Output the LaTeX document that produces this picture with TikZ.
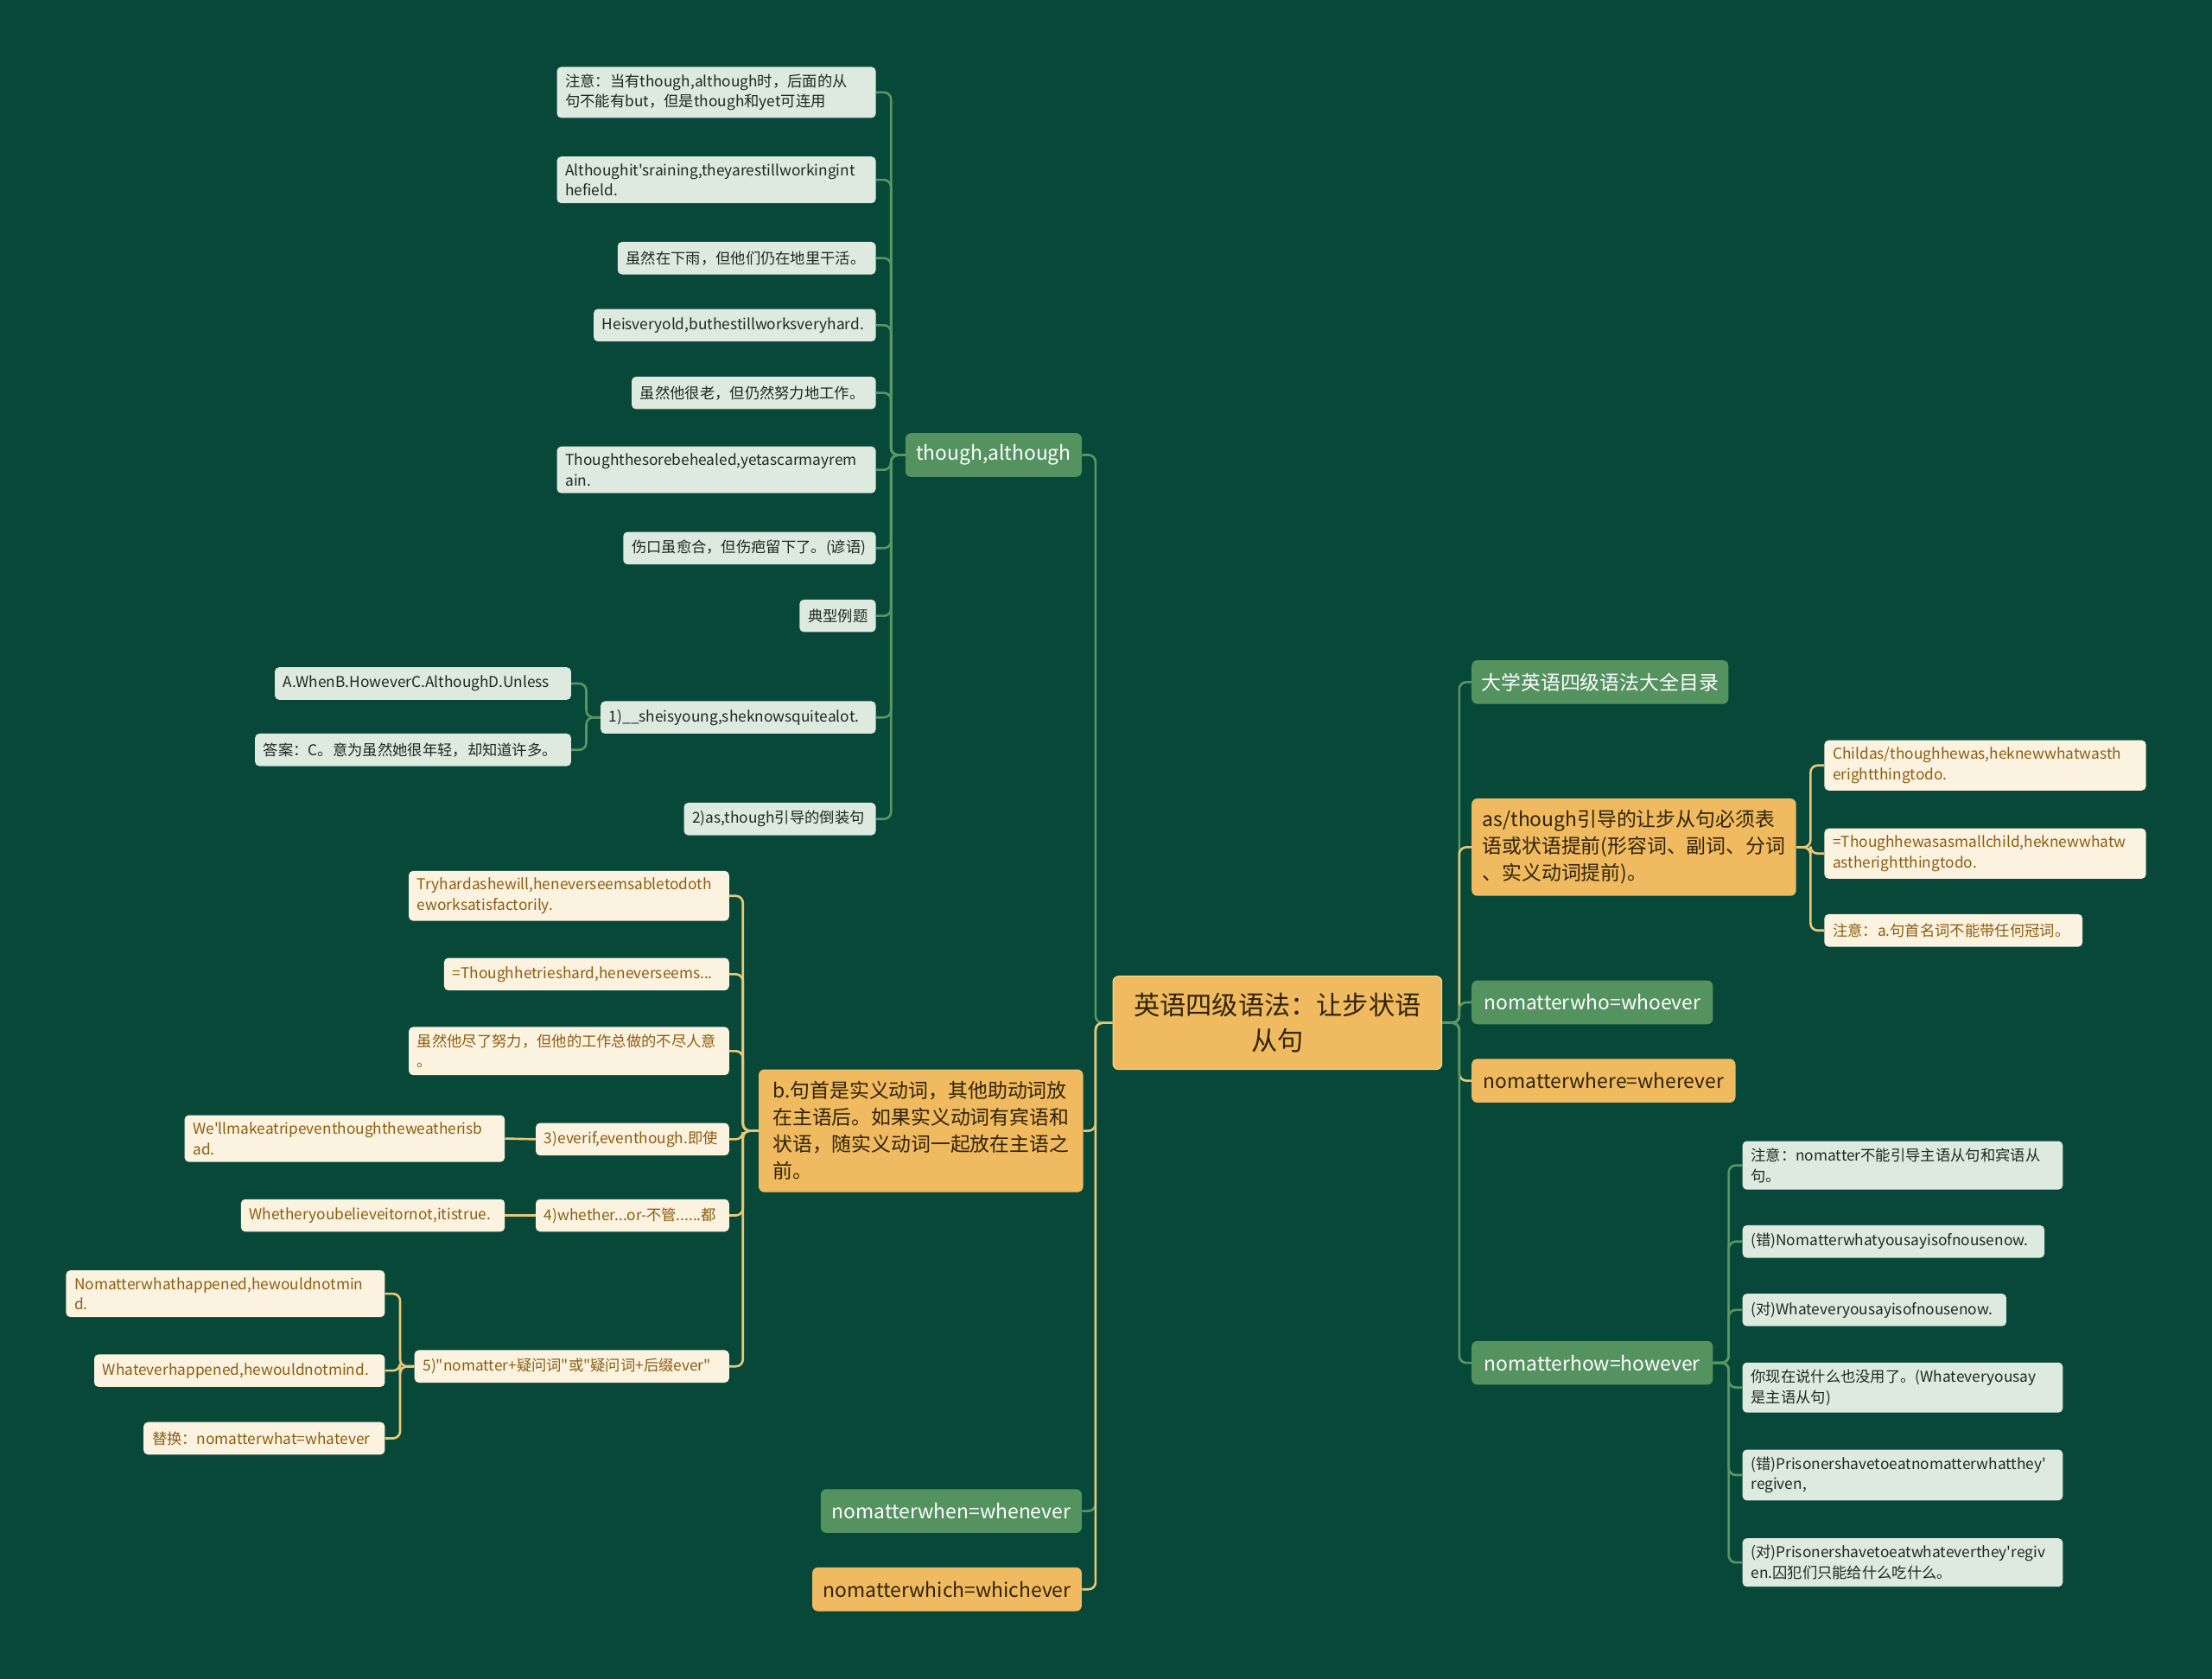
\documentclass[tikz,border=0pt]{standalone}
\usepackage{fontspec}
\newfontfamily\cjk{Noto Sans CJK SC}
\usepackage{tikz}
\usetikzlibrary{shapes,arrows}
\definecolor{boardGreen}{RGB}{7,72,57}
\definecolor{topicGreen}{RGB}{84,146,96}
\definecolor{topicYellow}{RGB}{240,187,96}
\definecolor{rootEdge}{RGB}{248,214,136}
\definecolor{noteGreen}{RGB}{222,234,224}
\definecolor{noteCream}{RGB}{252,242,224}
\definecolor{darkInk}{RGB}{48,34,10}
\definecolor{noteInk}{RGB}{30,40,34}
\definecolor{creamInk}{RGB}{138,94,16}
\definecolor{linkGreen}{RGB}{88,150,98}
\definecolor{linkYellow}{RGB}{232,200,120}
\tikzstyle{rootTopic} = [rectangle, rounded corners=4pt, fill=topicYellow, draw=rootEdge,
    line width=0.8pt, text=darkInk, align=center, inner xsep=8pt,
    font=\cjk\fontsize{18.5}{25}\selectfont, minimum height=66pt]
\tikzstyle{greenTopic} = [rectangle, rounded corners=4pt, fill=topicGreen, text=white,
    align=left, inner xsep=7pt, font=\cjk\fontsize{14}{19}\selectfont, minimum height=31pt]
\tikzstyle{yellowTopic} = [rectangle, rounded corners=4pt, fill=topicYellow, text=darkInk,
    align=left, inner xsep=7pt, font=\cjk\fontsize{14}{19}\selectfont, minimum height=31pt]
\tikzstyle{greenNote} = [rectangle, rounded corners=3pt, fill=noteGreen, text=noteInk,
    align=left, inner xsep=6pt, inner ysep=5pt, font=\cjk\fontsize{10.6}{14.5}\selectfont,
    minimum height=23pt]
\tikzstyle{yellowNote} = [rectangle, rounded corners=3pt, fill=noteCream, text=creamInk,
    align=left, inner xsep=6pt, inner ysep=5pt, font=\cjk\fontsize{10.6}{14.5}\selectfont,
    minimum height=23pt]
\tikzstyle{greenLink} = [draw=linkGreen, line width=1.6pt, rounded corners=5pt]
\tikzstyle{yellowLink} = [draw=linkYellow, line width=1.6pt, rounded corners=5pt]

\begin{document}
\begin{tikzpicture}[x=1pt, y=-1pt]
    \fill[boardGreen] (0,0) rectangle (1568,1190);
    \useasboundingbox (0,0) rectangle (1568,1190);

    % Place nodes
    \node[rootTopic, minimum width=233] (root) at (905.5,725) {英语四级语法：让步状语\\从句};

    % left side
    \node[greenTopic, anchor=east, minimum width=125] (thoughAlthough) at (767,322.5) {though,although};
    \node[greenNote, anchor=east, text width=214] (ttNote) at (621,65.5) {注意：当有though,although时，后面的从\\句不能有but，但是though和yet可连用};
    \node[greenNote, anchor=east, text width=214] (ttRain) at (621,127.5) {Althoughit'sraining,theyarestillworkingint\\hefield.};
    \node[greenNote, anchor=east, text width=171] (ttRainCn) at (621,183) {虽然在下雨，但他们仍在地里干活。};
    \node[greenNote, anchor=east, text width=188] (ttOld) at (621,230.5) {Heisveryold,buthestillworksveryhard.};
    \node[greenNote, anchor=east, text width=161] (ttOldCn) at (621,278.5) {虽然他很老，但仍然努力地工作。};
    \node[greenNote, anchor=east, text width=214] (ttScar) at (621,333) {Thoughthesorebehealed,yetascarmayrem\\ain.};
    \node[greenNote, anchor=east, text width=167] (ttScarCn) at (621,388.5) {伤口虽愈合，但伤疤留下了。(谚语)};
    \node[greenNote, anchor=east, text width=42] (ttExample) at (621,436.5) {典型例题};
    \node[greenNote, anchor=east, text width=183] (ttQuestion) at (621,508.5) {1)\_\_sheisyoung,sheknowsquitealot.};
    \node[greenNote, anchor=east, text width=198] (ttChoices) at (405,484.5) {A.WhenB.HoweverC.AlthoughD.Unless};
    \node[greenNote, anchor=east, text width=212] (ttAnswer) at (405,531.5) {答案：C。意为虽然她很年轻，却知道许多。};
    \node[greenNote, anchor=east, text width=124] (ttInversion) at (621,580.5) {2)as,though引导的倒装句};

    \node[yellowTopic, anchor=east, minimum width=230, minimum height=87] (verbFirst) at (768,801.5) {b.句首是实义动词，其他助动词放\\在主语后。如果实义动词有宾语和\\状语，随实义动词一起放在主语之\\前。};
    \node[yellowNote, anchor=east, text width=215] (vfTry) at (517,635) {Tryhardashewill,heneverseemsabletodoth\\eworksatisfactorily.};
    \node[yellowNote, anchor=east, text width=190] (vfEqual) at (517,690.5) {=Thoughhetrieshard,heneverseems...};
    \node[yellowNote, anchor=east, text width=215] (vfCn) at (517,745) {虽然他尽了努力，但他的工作总做的不尽人意\\。};
    \node[yellowNote, anchor=east, text width=125] (vfEvenIf) at (517,807.5) {3)everif,eventhough.即使};
    \node[yellowNote, anchor=east, text width=215] (vfTrip) at (358,807) {We'llmakeatripeventhoughtheweatherisb\\ad.};
    \node[yellowNote, anchor=east, text width=125] (vfWhether) at (517,861.5) {4)whether...or-不管......都};
    \node[yellowNote, anchor=east, text width=175] (vfBelieve) at (358,861.5) {Whetheryoubelieveitornot,itistrue.};
    \node[yellowNote, anchor=east, text width=211] (vfNoMatter) at (517,968.5) {5)"nomatter+疑问词"或"疑问词+后缀ever"};
    \node[yellowNote, anchor=east, text width=214] (vfHappened) at (273,917) {Nomatterwhathappened,hewouldnotmin\\d.};
    \node[yellowNote, anchor=east, text width=194] (vfWhatever) at (273,971.5) {Whateverhappened,hewouldnotmind.};
    \node[yellowNote, anchor=east, text width=159] (vfReplace) at (273,1019.5) {替换：nomatterwhat=whatever};

    \node[greenTopic, anchor=east, minimum width=185] (whenNode) at (767,1071) {nomatterwhen=whenever};
    \node[yellowTopic, anchor=east, minimum width=191] (whichNode) at (767,1126.5) {nomatterwhich=whichever};

    % right side
    \node[greenTopic, anchor=west, minimum width=181] (tocNode) at (1043,483.5) {大学英语四级语法大全目录};
    \node[yellowTopic, anchor=west, minimum width=230, minimum height=69] (asThough) at (1043,600.5) {as/though引导的让步从句必须表\\语或状语提前(形容词、副词、分词\\、实义动词提前)。};
    \node[yellowNote, anchor=west, text width=216] (atChild) at (1293,542.5) {Childas/thoughhewas,heknewwhatwasth\\erightthingtodo.};
    \node[yellowNote, anchor=west, text width=216] (atEqual) at (1293,605) {=Thoughhewasasmallchild,heknewwhatw\\astherightthingtodo.};
    \node[yellowNote, anchor=west, text width=171] (atNote) at (1293,659.5) {注意：a.句首名词不能带任何冠词。};
    \node[greenTopic, anchor=west, minimum width=171] (whoNode) at (1043,710.5) {nomatterwho=whoever};
    \node[yellowTopic, anchor=west, minimum width=187] (whereNode) at (1043,766) {nomatterwhere=wherever};
    \node[greenTopic, anchor=west, minimum width=171] (howNode) at (1043,966) {nomatterhow=however};
    \node[greenNote, anchor=west, text width=215] (hwNote) at (1235,826) {注意：nomatter不能引导主语从句和宾语从\\句。};
    \node[greenNote, anchor=west, text width=202] (hwWrong) at (1235,880) {(错)Nomatterwhatyousayisofnousenow.};
    \node[greenNote, anchor=west, text width=175] (hwRight) at (1235,928.5) {(对)Whateveryousayisofnousenow.};
    \node[greenNote, anchor=west, text width=215] (hwUseless) at (1235,983.5) {你现在说什么也没用了。(Whateveryousay\\是主语从句)};
    \node[greenNote, anchor=west, text width=215] (hwPrisonWrong) at (1235,1045.5) {(错)Prisonershavetoeatnomatterwhatthey'\\regiven,};
    \node[greenNote, anchor=west, text width=215] (hwPrisonRight) at (1235,1107.5) {(对)Prisonershavetoeatwhateverthey'regiv\\en.囚犯们只能给什么吃什么。};

    % Draw edges
    \path[greenLink] (root.west) -- ++(-12,0) |- (thoughAlthough.east);
    \path[yellowLink] (root.west) -- ++(-12,0) |- (verbFirst.east);
    \path[greenLink] (root.west) -- ++(-12,0) |- (whenNode.east);
    \path[yellowLink] (root.west) -- ++(-12,0) |- (whichNode.east);

    \path[greenLink] (thoughAlthough.west) -- ++(-10,0) |- (ttNote.east);
    \path[greenLink] (thoughAlthough.west) -- ++(-10,0) |- (ttRain.east);
    \path[greenLink] (thoughAlthough.west) -- ++(-10,0) |- (ttRainCn.east);
    \path[greenLink] (thoughAlthough.west) -- ++(-10,0) |- (ttOld.east);
    \path[greenLink] (thoughAlthough.west) -- ++(-10,0) |- (ttOldCn.east);
    \path[greenLink] (thoughAlthough.west) -- ++(-10,0) |- (ttScar.east);
    \path[greenLink] (thoughAlthough.west) -- ++(-10,0) |- (ttScarCn.east);
    \path[greenLink] (thoughAlthough.west) -- ++(-10,0) |- (ttExample.east);
    \path[greenLink] (thoughAlthough.west) -- ++(-10,0) |- (ttQuestion.east);
    \path[greenLink] (thoughAlthough.west) -- ++(-10,0) |- (ttInversion.east);
    \path[greenLink] (ttQuestion.west) -- ++(-10,0) |- (ttChoices.east);
    \path[greenLink] (ttQuestion.west) -- ++(-10,0) |- (ttAnswer.east);

    \path[yellowLink] (verbFirst.west) -- ++(-11,0) |- (vfTry.east);
    \path[yellowLink] (verbFirst.west) -- ++(-11,0) |- (vfEqual.east);
    \path[yellowLink] (verbFirst.west) -- ++(-11,0) |- (vfCn.east);
    \path[yellowLink] (verbFirst.west) -- ++(-11,0) |- (vfEvenIf.east);
    \path[yellowLink] (verbFirst.west) -- ++(-11,0) |- (vfWhether.east);
    \path[yellowLink] (verbFirst.west) -- ++(-11,0) |- (vfNoMatter.east);
    \path[yellowLink] (vfEvenIf.west) -- (vfTrip.east);
    \path[yellowLink] (vfWhether.west) -- (vfBelieve.east);
    \path[yellowLink] (vfNoMatter.west) -- ++(-10,0) |- (vfHappened.east);
    \path[yellowLink] (vfNoMatter.west) -- ++(-10,0) |- (vfWhatever.east);
    \path[yellowLink] (vfNoMatter.west) -- ++(-10,0) |- (vfReplace.east);

    \path[greenLink] (root.east) -- ++(12,0) |- (tocNode.west);
    \path[yellowLink] (root.east) -- ++(12,0) |- (asThough.west);
    \path[greenLink] (root.east) -- ++(12,0) |- (whoNode.west);
    \path[yellowLink] (root.east) -- ++(12,0) |- (whereNode.west);
    \path[greenLink] (root.east) -- ++(12,0) |- (howNode.west);

    \path[yellowLink] (asThough.east) -- ++(10,0) |- (atChild.west);
    \path[yellowLink] (asThough.east) -- ++(10,0) |- (atEqual.west);
    \path[yellowLink] (asThough.east) -- ++(10,0) |- (atNote.west);

    \path[greenLink] (howNode.east) -- ++(11,0) |- (hwNote.west);
    \path[greenLink] (howNode.east) -- ++(11,0) |- (hwWrong.west);
    \path[greenLink] (howNode.east) -- ++(11,0) |- (hwRight.west);
    \path[greenLink] (howNode.east) -- ++(11,0) |- (hwUseless.west);
    \path[greenLink] (howNode.east) -- ++(11,0) |- (hwPrisonWrong.west);
    \path[greenLink] (howNode.east) -- ++(11,0) |- (hwPrisonRight.west);
\end{tikzpicture}
\end{document}
